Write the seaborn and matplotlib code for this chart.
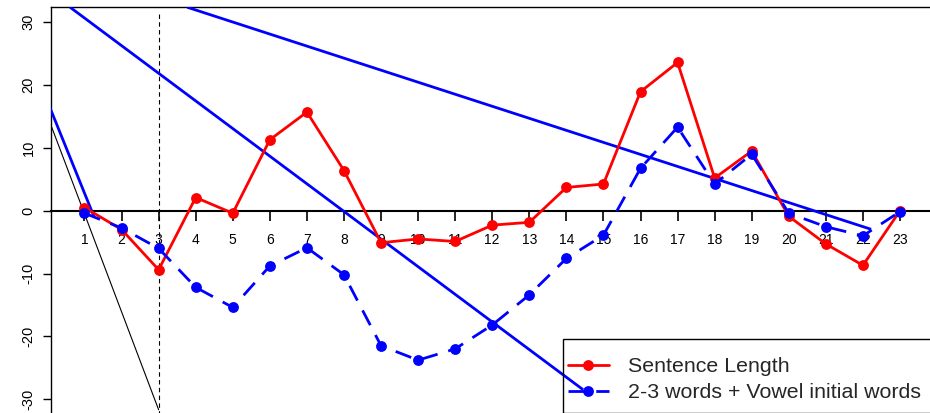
import matplotlib
matplotlib.use("Agg")
import matplotlib.pyplot as plt
import seaborn as sns
import pandas as pd
from matplotlib.patches import Rectangle

# ---- data ----
positions = list(range(1, 24))
sentence_length = [0.5, -3.0, -9.4, 2.1, -0.4, 11.3, 15.7, 6.4, -5.1, -4.5, -4.9,
                   -2.3, -1.85, 3.7, 4.25, 18.95, 23.6, 5.2, 9.5, -0.9, -5.3, -8.7, 0.0]
vowel_words = [-0.4, -2.75, -6.0, -12.2, -15.4, -8.8, -5.9, -10.2, -21.5, -23.8, -22.0,
               -18.2, -13.4, -7.6, -3.9, 6.75, 13.3, 4.25, 9.0, -0.4, -2.55, -4.0, -0.15]
series_labels = ["Sentence Length", "2-3 words + Vowel initial words"]

# straight reference lines (end points)
line_a_x, line_a_y = [0.0, 1.26], [17.4, -1.0]
line_b_x, line_b_y = [0.61, 14.45], [32.4, -28.5]
line_c_x, line_c_y = [3.77, 22.22], [32.4, -2.96]
black_x, black_y = [0.0, 3.0], [15.1, -31.7]
vline_x, vline_y = [3.0, 3.0], [31.4, -33.0]

yticks = [-30, -20, -10, 0, 10, 20, 30]

df = pd.DataFrame({"pos": positions, "sl": sentence_length, "vw": vowel_words})

sns.set_theme(style="white")
plt.rcParams["font.family"] = ["Liberation Sans", "DejaVu Sans"]

fig = plt.figure(figsize=(9.3, 4.13), dpi=100)
ax = fig.add_axes([51 / 930, 0, 879 / 930, (413 - 7.3) / 413])

ax.plot(black_x, black_y, color="black", lw=0.8, zorder=2)
ax.plot(vline_x, vline_y, color="black", lw=0.8, ls=(0, (4, 3)), zorder=2)
for lx, ly in [(line_a_x, line_a_y), (line_b_x, line_b_y), (line_c_x, line_c_y)]:
    ax.plot(lx, ly, color="#0000ff", lw=2.0, solid_capstyle="butt", zorder=3)

sns.lineplot(data=df, x="pos", y="sl", color="#ff0000", lw=2.0, marker="o",
             markersize=7.8, markeredgewidth=0, label=series_labels[0], ax=ax,
             zorder=4, legend=False)
sns.lineplot(data=df, x="pos", y="vw", color="#0000ff", lw=2.0, marker="o",
             markersize=7.8, markeredgewidth=0, label=series_labels[1], ax=ax,
             zorder=4, legend=False)
red_line = ax.lines[-2]
blue_line = ax.lines[-1]
blue_line.set_dashes((6, 4))

ax.set_xlim(1 - 33.5 / 37.07, 23 + 30 / 37.07)
ax.set_ylim((210.7 - 413) / 6.28, (210.7 - 7.3) / 6.28)

ax.spines["right"].set_visible(False)
ax.spines["bottom"].set_position(("data", 0))
for s in ["left", "top", "bottom"]:
    ax.spines[s].set_color("black")
ax.spines["left"].set_linewidth(1.0)
ax.spines["top"].set_linewidth(1.0)
ax.spines["bottom"].set_linewidth(1.5)

ax.set_xticks(positions)
ax.set_xticklabels([str(p) for p in positions])
ax.set_yticks(yticks)
ax.set_yticklabels([str(t) for t in yticks], rotation=90, va="center")
ax.tick_params(axis="x", direction="out", length=7, width=1.2, pad=9,
               labelsize=10, colors="black", bottom=True)
ax.tick_params(axis="y", direction="out", length=6, width=1.0, pad=5,
               labelsize=10.5, colors="black", left=True)
ax.set_xlabel("")
ax.set_ylabel("")

# legend (transparent, with box)
fig.add_artist(Rectangle((563 / 930, 0), 0.5, 1 - 339 / 413 - 0.0,
                         transform=fig.transFigure, fill=False, edgecolor="black",
                         lw=1.0, clip_on=False, zorder=5))
leg = fig.legend([red_line, blue_line], series_labels, loc="upper left",
                 bbox_to_anchor=(568 / 930, 1 - 357 / 413), frameon=False,
                 fontsize=15.4, handlelength=1.9, handletextpad=0.9,
                 labelspacing=0.33, borderpad=0, borderaxespad=0, numpoints=1)
leg.set_zorder(6)

fig.savefig("out.png", dpi=100)
